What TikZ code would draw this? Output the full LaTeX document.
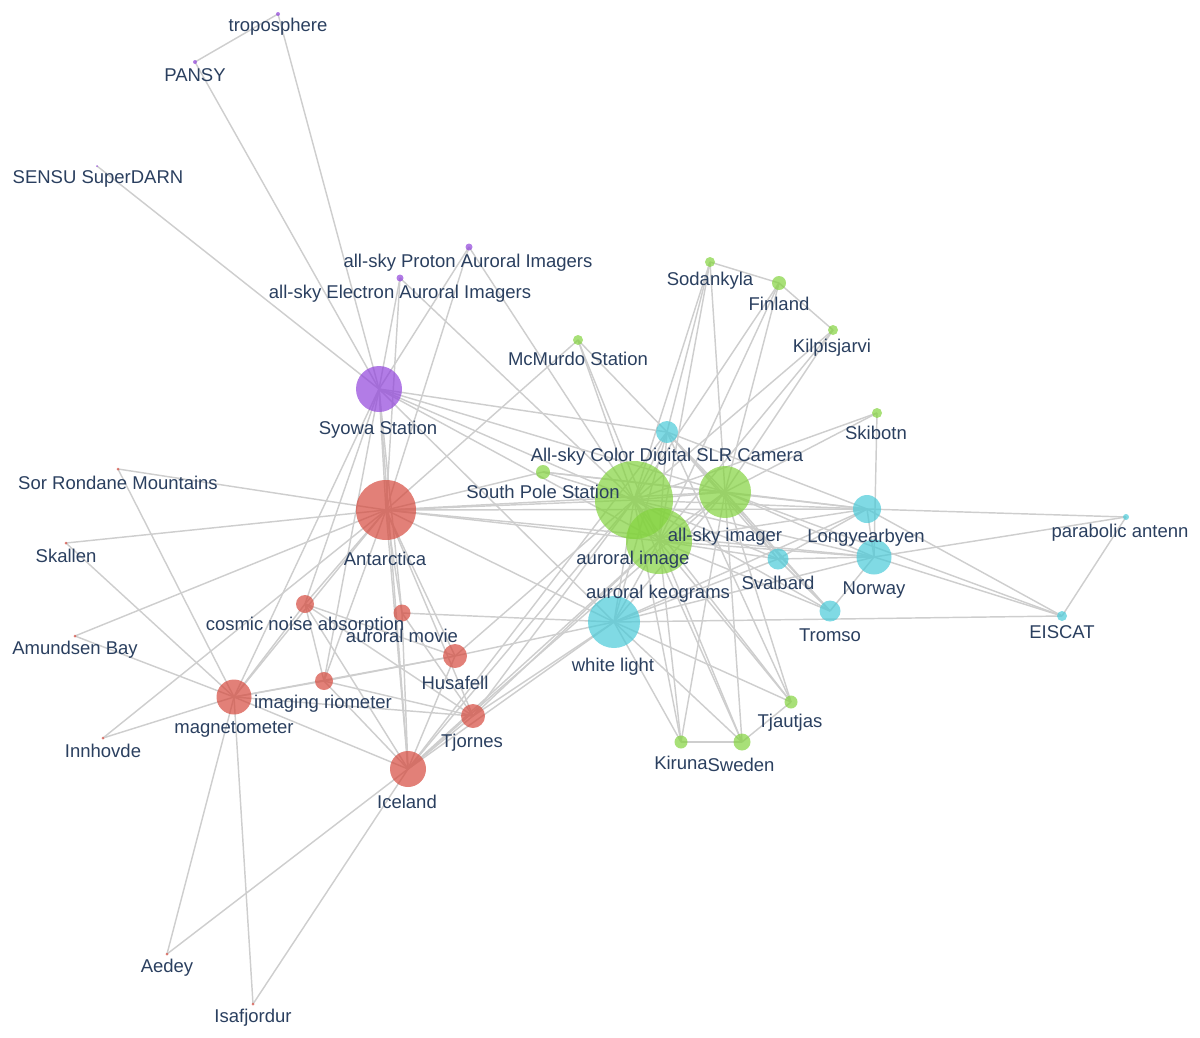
\documentclass[tikz,border=0pt]{standalone}
\usepackage{fontspec}
\setmainfont{Liberation Sans}
\definecolor{cPur}{RGB}{145,68,219}
\definecolor{cRed}{RGB}{214,74,62}
\definecolor{cGrn}{RGB}{131,211,62}
\definecolor{cCyn}{RGB}{74,202,216}
\definecolor{cTxt}{RGB}{42,63,95}
\definecolor{cEdge}{RGB}{206,206,206}
\newcommand\lblfont{\fontsize{18.5}{20}\selectfont}
\pgfdeclarelayer{bg}
\pgfsetlayers{bg,main}
\tikzset{
 nd/.style={circle,inner sep=0pt,draw=none,fill opacity=0.7},
 pu/.style={nd,fill=cPur}, rd/.style={nd,fill=cRed},
 gr/.style={nd,fill=cGrn}, cy/.style={nd,fill=cCyn},
 lbl/.style={text=cTxt,font=\lblfont,inner sep=0pt,anchor=center,yshift=-2.5pt},
 edge/.style={draw=cEdge,line width=1.45pt}
}
\begin{document}
\begin{tikzpicture}[x=1pt,y=-1pt]
\useasboundingbox (0,0) rectangle (1200,1037);
% purple
\node[pu,minimum size=4pt] (tropo) at (278,14) {};
\node[pu,minimum size=4pt] (pansy) at (195,62) {};
\node[pu,minimum size=2pt] (sensu) at (97,166) {};
\node[pu,minimum size=7pt] (proton) at (469,247) {};
\node[pu,minimum size=7pt] (electron) at (400,278) {};
\node[pu,minimum size=46pt] (syowa) at (379,389) {};
% green
\node[gr,minimum size=10pt] (mcmurdo) at (578,340) {};
\node[gr,minimum size=10pt] (sodankyla) at (710,262) {};
\node[gr,minimum size=14pt] (finland) at (779,283) {};
\node[gr,minimum size=10pt] (kilpis) at (833,330) {};
\node[gr,minimum size=10pt] (skibotn) at (877,413) {};
\node[gr,minimum size=14pt] (southpole) at (543,472) {};
\node[gr,minimum size=78pt] (aimage) at (634,500) {};
\node[gr,minimum size=66pt] (keo) at (659,541) {};
\node[gr,minimum size=52pt] (imager) at (725,492) {};
\node[gr,minimum size=13pt] (kiruna) at (681,742) {};
\node[gr,minimum size=17pt] (sweden) at (742,742) {};
\node[gr,minimum size=13pt] (tjautjas) at (791,702) {};
% cyan
\node[cy,minimum size=22pt] (slr) at (667,432) {};
\node[cy,minimum size=28pt] (longyear) at (867,509) {};
\node[cy,minimum size=35pt] (norway) at (874,557) {};
\node[cy,minimum size=21pt] (svalbard) at (778,559) {};
\node[cy,minimum size=21pt] (tromso) at (830,611) {};
\node[cy,minimum size=52pt] (white) at (614,622) {};
\node[cy,minimum size=10pt] (eiscat) at (1062,616) {};
\node[cy,minimum size=6pt] (parab) at (1126,517) {};
% red
\node[rd,minimum size=60pt] (antarctica) at (386,510) {};
\node[rd,minimum size=3pt] (sorr) at (118,469) {};
\node[rd,minimum size=3pt] (skallen) at (66,543) {};
\node[rd,minimum size=3pt] (amundsen) at (75,636) {};
\node[rd,minimum size=3pt] (innhovde) at (103,738) {};
\node[rd,minimum size=18pt] (cosmic) at (305,604) {};
\node[rd,minimum size=17pt] (movie) at (402,613) {};
\node[rd,minimum size=24pt] (husafell) at (455,656) {};
\node[rd,minimum size=18pt] (riometer) at (324,681) {};
\node[rd,minimum size=35pt] (magneto) at (234,697) {};
\node[rd,minimum size=24pt] (tjornes) at (473,716) {};
\node[rd,minimum size=36pt] (iceland) at (408,769) {};
\node[rd,minimum size=3pt] (aedey) at (167,954) {};
\node[rd,minimum size=3pt] (isaf) at (253,1004) {};
\begin{pgfonlayer}{bg}
\foreach \a/\b in {tropo/pansy,tropo/syowa,pansy/syowa,sensu/syowa,electron/syowa,proton/syowa,
 electron/aimage,proton/aimage,proton/antarctica,electron/antarctica,
 syowa/antarctica,syowa/magneto,syowa/cosmic,syowa/riometer,syowa/movie,syowa/iceland,
 syowa/slr,syowa/imager,syowa/aimage,syowa/white,syowa/keo,
 mcmurdo/antarctica,mcmurdo/slr,mcmurdo/aimage,mcmurdo/keo,
 sodankyla/finland,sodankyla/slr,sodankyla/aimage,sodankyla/imager,sodankyla/keo,
 finland/kilpis,finland/aimage,finland/imager,finland/keo,
 kilpis/aimage,kilpis/imager,kilpis/keo,
 skibotn/norway,skibotn/aimage,skibotn/imager,
 southpole/antarctica,southpole/aimage,southpole/imager,southpole/longyear,
 aimage/keo,aimage/imager,aimage/slr,aimage/white,aimage/svalbard,aimage/longyear,aimage/norway,
 aimage/tromso,aimage/kiruna,aimage/sweden,aimage/tjautjas,aimage/husafell,aimage/tjornes,
 aimage/iceland,aimage/antarctica,
 keo/imager,keo/slr,keo/white,keo/svalbard,keo/longyear,keo/norway,keo/tromso,keo/kiruna,
 keo/sweden,keo/tjautjas,keo/iceland,keo/tjornes,keo/antarctica,
 imager/slr,imager/white,imager/svalbard,imager/longyear,imager/norway,imager/tromso,
 imager/kiruna,imager/sweden,imager/tjautjas,imager/antarctica,imager/iceland,imager/eiscat,
 slr/svalbard,slr/tromso,slr/longyear,slr/iceland,slr/white,
 white/antarctica,white/movie,white/husafell,white/tjornes,white/iceland,white/kiruna,
 white/sweden,white/tjautjas,white/eiscat,white/longyear,white/norway,white/svalbard,
 longyear/norway,longyear/svalbard,longyear/parab,longyear/eiscat,longyear/antarctica,
 norway/tromso,norway/eiscat,norway/parab,norway/svalbard,norway/antarctica,
 svalbard/tromso,eiscat/parab,kiruna/sweden,sweden/tjautjas,tjautjas/slr,
 antarctica/sorr,antarctica/skallen,antarctica/amundsen,antarctica/innhovde,antarctica/cosmic,
 antarctica/riometer,antarctica/magneto,antarctica/movie,antarctica/iceland,antarctica/husafell,
 antarctica/tjornes,
 magneto/sorr,magneto/skallen,magneto/amundsen,magneto/innhovde,magneto/aedey,magneto/isaf,
 magneto/cosmic,magneto/riometer,magneto/iceland,magneto/tjornes,magneto/husafell,
 iceland/aedey,iceland/isaf,iceland/cosmic,iceland/movie,iceland/husafell,iceland/tjornes,
 iceland/riometer,
 cosmic/riometer,cosmic/husafell,cosmic/tjornes,
 riometer/husafell,riometer/tjornes,movie/tjornes}
 \draw[edge] (\a.center) -- (\b.center);
\end{pgfonlayer}
% labels
\node[lbl] (l-tropo) at (278,24) {troposphere};
\node[lbl] (l-pansy) at (195,73) {PANSY};
\node[lbl] (l-sensu) at (98,176) {SENSU SuperDARN};
\node[lbl] (l-proton) at (468,260) {all-sky Proton Auroral Imagers};
\node[lbl] (l-electron) at (400,291) {all-sky Electron Auroral Imagers};
\node[lbl] (l-syowa) at (378,427) {Syowa Station};
\node[lbl] (l-mcmurdo) at (578,356) {McMurdo Station};
\node[lbl] (l-sodankyla) at (710,278) {Sodankyla};
\node[lbl] (l-finland) at (779,301) {Finland};
\node[lbl] (l-kilpis) at (832,345) {Kilpisjarvi};
\node[lbl] (l-skibotn) at (876,430) {Skibotn};
\node[lbl] (l-slr) at (667,454) {All-sky Color Digital SLR Camera};
\node[lbl] (l-southpole) at (543,489) {South Pole Station};
\node[lbl] (l-imager) at (725,534) {all-sky imager};
\node[lbl] (l-aimage) at (633,557) {auroral image};
\node[lbl] (l-keo) at (658,591) {auroral keograms};
\node[lbl] (l-longyear) at (866,535) {Longyearbyen};
\node[lbl] (l-parab) at (1120,530) {parabolic antenn};
\node[lbl] (l-norway) at (874,588) {Norway};
\node[lbl] (l-svalbard) at (778,580) {Svalbard};
\node[lbl] (l-tromso) at (830,633) {Tromso};
\node[lbl] (l-eiscat) at (1062,630) {EISCAT};
\node[lbl] (l-white) at (613,664) {white light};
\node[lbl] (l-tjautjas) at (790,720) {Tjautjas};
\node[lbl] (l-kiruna) at (681,760) {Kiruna};
\node[lbl] (l-sweden) at (741,762) {Sweden};
\node[lbl] (l-antarctica) at (385,556) {Antarctica};
\node[lbl] (l-sorr) at (118,480) {Sor Rondane Mountains};
\node[lbl] (l-skallen) at (66,553) {Skallen};
\node[lbl] (l-amundsen) at (75,647) {Amundsen Bay};
\node[lbl] (l-innhovde) at (103,748) {Innhovde};
\node[lbl] (l-cosmic) at (305,623) {cosmic noise absorption};
\node[lbl] (l-movie) at (402,633) {auroral movie};
\node[lbl] (l-husafell) at (455,680) {Husafell};
\node[lbl] (l-riometer) at (323,701) {imaging riometer};
\node[lbl] (l-magneto) at (234,727) {magnetometer};
\node[lbl] (l-tjornes) at (472,740) {Tjornes};
\node[lbl] (l-iceland) at (407,799) {Iceland};
\node[lbl] (l-aedey) at (167,965) {Aedey};
\node[lbl] (l-isaf) at (253,1015) {Isafjordur};
\end{tikzpicture}
\end{document}
